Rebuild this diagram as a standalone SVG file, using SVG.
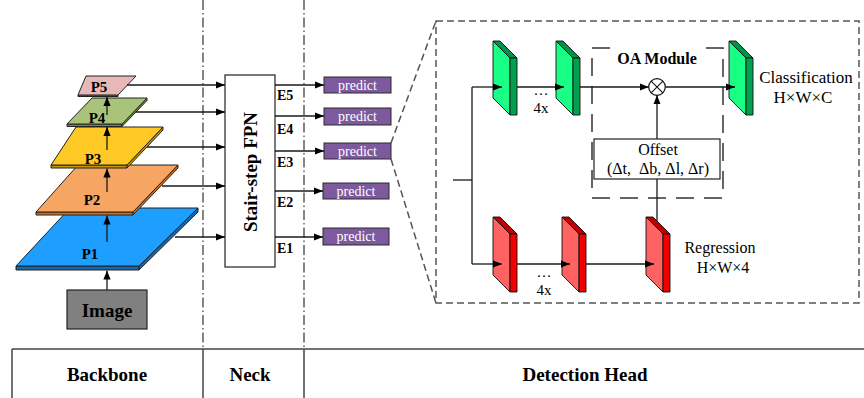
<svg xmlns="http://www.w3.org/2000/svg" width="864" height="398" viewBox="0 0 864 398">
<style>
.ln{stroke:#1a1a1a;stroke-width:1.3;fill:none}
.ar{marker-end:url(#arr)}
.dd{stroke:#333;stroke-width:1.2;fill:none;stroke-dasharray:10 3 1.5 3}
.dsh{stroke:#555;stroke-width:1.5;fill:none;stroke-dasharray:7 4}
.tb{stroke:#444;stroke-width:1.5;fill:none}
.t{font-family:"Liberation Serif","Times New Roman",serif;fill:#000}
.b{font-weight:bold}
.m{text-anchor:middle}
.lay{stroke:#222;stroke-width:1}
.pred{fill:#7D5A9E;stroke:#2a2a2a;stroke-width:1}
.pt{font-family:"Liberation Serif","Times New Roman",serif;font-size:14px;fill:#fff;text-anchor:middle}
.blk{stroke:#111;stroke-width:0.9;stroke-linejoin:round}
</style>
<defs>
<marker id="arr" viewBox="0 0 10 8" refX="10" refY="4" markerWidth="9" markerHeight="7.5" markerUnits="userSpaceOnUse" orient="auto"><path d="M0,0 L10,4 L0,8 z" fill="#000"/></marker>
<g id="gblk">
<polygon class="blk" points="0,0 17,17 17,74 0,57" fill="#19FF85"/>
<polygon class="blk" points="0,0 7,0 24,17 17,17" fill="#00924A"/>
<polygon class="blk" points="17,17 24,17 24,74 17,74" fill="#00A050"/>
</g>
<g id="rblk">
<polygon class="blk" points="0,0 17,17 17,75 0,58" fill="#FF6262"/>
<polygon class="blk" points="0,0 7,0 24,17 17,17" fill="#C00000"/>
<polygon class="blk" points="17,17 24,17 24,75 17,75" fill="#F00000"/>
</g>
</defs>
<rect width="864" height="398" fill="#fff"/>

<!-- section separators -->
<g id="separators">
<line class="dd" x1="203" y1="0" x2="203" y2="349"/>
<line class="dd" x1="304" y1="0" x2="304" y2="349"/>
</g>

<!-- table -->
<g id="table">
<line class="tb" x1="12" y1="349" x2="864" y2="349"/>
<line class="tb" x1="12" y1="349" x2="12" y2="398"/>
<line class="tb" x1="203" y1="349" x2="203" y2="398"/>
<line class="tb" x1="304" y1="349" x2="304" y2="398"/>
<text class="t b m" x="107" y="381" font-size="19">Backbone</text>
<text class="t b m" x="250" y="381" font-size="19">Neck</text>
<text class="t b m" x="585" y="381" font-size="19">Detection Head</text>
</g>

<!-- backbone layers -->
<g id="P1">
<polygon class="lay" points="16,266 139,266 139,270 16,270" fill="#1666B0"/>
<polygon class="lay" points="139,266 198,208 198,212 139,270" fill="#1666B0"/>
<polygon class="lay" points="70,208 198,208 139,266 16,266" fill="#1E9EFF"/>
<text class="t b m" x="90" y="259" font-size="15">P1</text>
</g>
<g id="P2">
<polygon class="lay" points="36,212 133,212 133,215 36,215" fill="#E46C0A"/>
<polygon class="lay" points="133,212 178,165 178,168 133,215" fill="#E46C0A"/>
<polygon class="lay" points="78,165 178,165 133,212 36,212" fill="#F6A562"/>
<text class="t b m" x="92" y="205" font-size="15">P2</text>
</g>
<g id="P3">
<polygon class="lay" points="51,165 127,165 127,168 51,168" fill="#C89600"/>
<polygon class="lay" points="127,165 163,127 163,130 127,168" fill="#C89600"/>
<polygon class="lay" points="76,127 163,127 127,165 51,165" fill="#FFC925"/>
<text class="t b m" x="93" y="164" font-size="15">P3</text>
</g>
<g id="P4">
<polygon class="lay" points="67,124 122,124 122,126.5 67,126.5" fill="#6E8F3A"/>
<polygon class="lay" points="122,124 147,98 147,100.5 122,126.5" fill="#6E8F3A"/>
<polygon class="lay" points="92,98 147,98 122,124 67,124" fill="#A9C47A"/>
<text class="t b m" x="97" y="123" font-size="15">P4</text>
</g>
<g id="P5">
<polygon class="lay" points="78,95 118,95 118,96.5 78,96.5" fill="#B98A89"/>
<polygon class="lay" points="86,76 136,76 118,95 78,95" fill="#E6B9B8"/>
<text class="t b m" x="99" y="92" font-size="15">P5</text>
</g>
<g id="image">
<rect x="67" y="290" width="80" height="39" fill="#808080" stroke="#222" stroke-width="1.2"/>
<text class="t b m" x="107" y="317" font-size="19">Image</text>
</g>

<!-- neck -->
<g id="fpn">
<rect x="225" y="75" width="50" height="192" fill="#fff" stroke="#222" stroke-width="1.2"/>
<text class="t b m" font-size="19" transform="translate(256.5,172) rotate(-90)">Stair-step FPN</text>
</g>
<g id="elabels">
<text class="t b" x="277" y="100" font-size="14">E5</text>
<text class="t b" x="277" y="134" font-size="14">E4</text>
<text class="t b" x="277" y="167" font-size="14">E3</text>
<text class="t b" x="277" y="207" font-size="14">E2</text>
<text class="t b" x="277" y="253" font-size="14">E1</text>
</g>
<g id="predict5"><rect class="pred" x="324" y="77" width="67" height="16"/><text class="pt" x="357.5" y="90">predict</text></g>
<g id="predict4"><rect class="pred" x="324" y="108" width="67" height="17"/><text class="pt" x="357.5" y="121">predict</text></g>
<g id="predict3"><rect class="pred" x="324" y="143" width="67" height="16"/><text class="pt" x="357.5" y="156">predict</text></g>
<g id="predict2"><rect class="pred" x="323" y="183" width="66" height="16"/><text class="pt" x="356" y="196">predict</text></g>
<g id="predict1"><rect class="pred" x="323" y="228" width="66" height="17"/><text class="pt" x="356" y="241">predict</text></g>

<!-- detection head -->
<g id="headbox">
<rect class="dsh" x="436" y="21" width="423" height="282"/>
</g>
<g id="oamodule">
<path d="M610,48 H592 V198 H723 V48 H703" fill="none" stroke="#333" stroke-width="1.5" stroke-dasharray="18 10"/>
<text class="t b m" x="657" y="64" font-size="16">OA Module</text>
</g>
<g id="offset">
<rect x="594" y="139" width="126" height="40" fill="#fff" stroke="#222" stroke-width="1.2"/>
<text class="t m" x="658" y="155" font-size="16">Offset</text>
<text class="t m" x="658" y="174" font-size="16" xml:space="preserve">(Δt,  Δb, Δl, Δr)</text>
</g>
<g id="cls1"><use href="#gblk" x="493" y="41"/></g>
<g id="cls2"><use href="#gblk" x="556" y="41"/></g>
<g id="cls3"><use href="#gblk" x="729" y="41"/></g>
<g id="reg1"><use href="#rblk" x="493" y="217"/></g>
<g id="reg2"><use href="#rblk" x="562" y="217"/></g>
<g id="reg3"><use href="#rblk" x="646" y="217"/></g>
<g id="mult">
<circle cx="657" cy="87" r="8.3" fill="#fff" stroke="#111" stroke-width="1.2"/>
<path d="M651.1,81.1 L662.9,92.9 M662.9,81.1 L651.1,92.9" stroke="#111" stroke-width="1.1"/>
</g>
<g id="labels">
<text class="t m" x="541" y="95" font-size="15">…</text>
<text class="t m" x="541" y="113" font-size="15">4x</text>
<text class="t m" x="544" y="277" font-size="15">…</text>
<text class="t m" x="544" y="295" font-size="15">4x</text>
<text class="t m" x="806" y="83" font-size="17">Classification</text>
<text class="t m" x="803" y="103" font-size="17">H×W×C</text>
<text class="t m" x="720" y="253" font-size="16">Regression</text>
<text class="t m" x="723" y="273" font-size="16">H×W×4</text>
</g>

<!-- connectors -->
<g id="connectors">
<line class="ln" x1="107" y1="290" x2="107" y2="270.5" marker-end="url(#arr)"/>
<line class="ln" x1="107" y1="242" x2="107" y2="215.5" marker-end="url(#arr)"/>
<line class="ln" x1="107" y1="192" x2="107" y2="168.5" marker-end="url(#arr)"/>
<line class="ln" x1="107" y1="150" x2="107" y2="127" marker-end="url(#arr)"/>
<line class="ln" x1="107" y1="115" x2="107" y2="97" marker-end="url(#arr)"/>

<line class="ln" x1="127" y1="85" x2="225" y2="85" marker-end="url(#arr)"/>
<line class="ln" x1="136" y1="112" x2="225" y2="112" marker-end="url(#arr)"/>
<line class="ln" x1="147" y1="147" x2="225" y2="147" marker-end="url(#arr)"/>
<line class="ln" x1="162" y1="186" x2="225" y2="186" marker-end="url(#arr)"/>
<line class="ln" x1="175" y1="237" x2="225" y2="237" marker-end="url(#arr)"/>

<line class="ln" x1="275" y1="85" x2="324" y2="85" marker-end="url(#arr)"/>
<line class="ln" x1="275" y1="116" x2="324" y2="116" marker-end="url(#arr)"/>
<line class="ln" x1="275" y1="151" x2="324" y2="151" marker-end="url(#arr)"/>
<line class="ln" x1="275" y1="191" x2="323" y2="191" marker-end="url(#arr)"/>
<line class="ln" x1="275" y1="237" x2="323" y2="237" marker-end="url(#arr)"/>

<line class="dsh" x1="391" y1="143" x2="436" y2="21"/>
<line class="dsh" x1="391" y1="159" x2="436" y2="303"/>

<polyline class="ln" points="453,180 472,180"/>
<polyline class="ln" points="472,87 472,264"/>
<line class="ln" x1="472" y1="87" x2="502" y2="87" marker-end="url(#arr)"/>
<line class="ln" x1="517" y1="87" x2="564" y2="87" marker-end="url(#arr)"/>
<line class="ln" x1="580" y1="87" x2="648.7" y2="87" marker-end="url(#arr)"/>
<line class="ln" x1="665.3" y1="87" x2="735" y2="87" marker-end="url(#arr)"/>
<line class="ln" x1="657" y1="139" x2="657" y2="95.3" marker-end="url(#arr)"/>
<line class="ln" x1="657" y1="179" x2="657" y2="221"/>
<line class="ln" x1="472" y1="264" x2="502" y2="264" marker-end="url(#arr)"/>
<line class="ln" x1="517" y1="264" x2="570" y2="264" marker-end="url(#arr)"/>
<line class="ln" x1="586" y1="264" x2="654" y2="264" marker-end="url(#arr)"/>
</g>
</svg>
